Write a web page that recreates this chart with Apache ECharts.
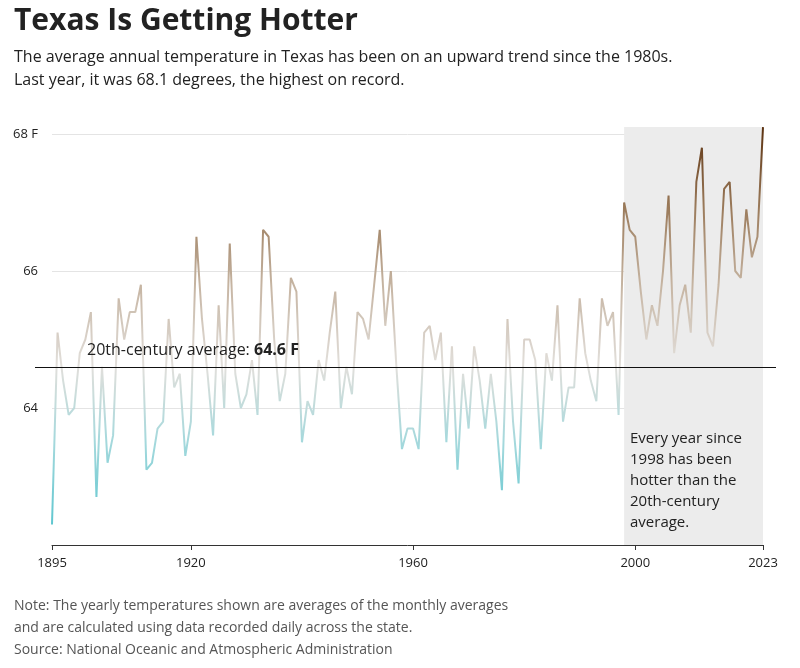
<!DOCTYPE html>
<html>
<head>
<meta charset="utf-8">
<script src="https://cdn.jsdelivr.net/npm/echarts@6/dist/echarts.min.js"></script>
<style>
  body { margin: 0; background: #fff; }
  #chart { width: 800px; height: 668px; }
</style>
</head>
<body>
<div id="chart"></div>
<script>
// annual average temperature in Texas, deg F, 1895-2023
const startYear = 1895;
const temps = [
  62.3, 65.1, 64.4, 63.9, 64.0, 64.8, 65.0, 65.4, 62.7, 64.6,
  63.2, 63.6, 65.6, 65.0, 65.4, 65.4, 65.8, 63.1, 63.2, 63.7,
  63.8, 65.3, 64.3, 64.5, 63.3, 63.8, 66.5, 65.3, 64.5, 63.6,
  65.5, 64.0, 66.4, 64.5, 64.0, 64.2, 64.7, 63.9, 66.6, 66.5,
  65.0, 64.1, 64.5, 65.9, 65.7, 63.5, 64.1, 63.9, 64.7, 64.4,
  65.1, 65.7, 64.0, 64.6, 64.2, 65.4, 65.3, 65.0, 65.8, 66.6,
  65.2, 66.0, 64.6, 63.4, 63.7, 63.7, 63.4, 65.1, 65.2, 64.7,
  65.1, 63.5, 64.9, 63.1, 64.5, 63.7, 64.9, 64.4, 63.7, 64.5,
  63.8, 62.8, 65.3, 63.8, 62.9, 65.0, 65.0, 64.7, 63.4, 64.8,
  64.4, 65.5, 63.8, 64.3, 64.3, 65.6, 64.8, 64.4, 64.1, 65.6,
  65.2, 65.4, 63.9, 67.0, 66.6, 66.5, 65.7, 65.0, 65.5, 65.2,
  66.0, 67.1, 64.8, 65.5, 65.8, 65.1, 67.3, 67.8, 65.1, 64.9,
  65.8, 67.2, 67.3, 66.0, 65.9, 66.9, 66.2, 66.5, 68.1
];
const xTicks = [1895, 1920, 1960, 2000, 2023];
const centuryAvg = 64.6;
const shadeFrom = 1998;

const years = temps.map((_, i) => startYear + i);
const seriesData = years.map((y, i) => [y, temps[i]]);
const lastIdx = seriesData.length - 1;

const chart = echarts.init(document.getElementById("chart"));
const font = "'Open Sans', 'Noto Sans', sans-serif";

chart.setOption({
  animation: false,
  textStyle: { fontFamily: font },
  grid: { left: 52, right: 37, top: 134, bottom: 123 },
  xAxis: {
    type: "value",
    min: startYear,
    max: years[lastIdx],
    splitLine: { show: false },
    axisLine: { lineStyle: { color: "#333", width: 1 } },
    axisTick: { customValues: xTicks, length: 5, lineStyle: { color: "#333" } },
    axisLabel: { customValues: xTicks, color: "#222", fontSize: 13, margin: 12, formatter: v => String(v) }
  },
  yAxis: {
    type: "value",
    min: 62,
    max: 68,
    interval: 2,
    axisLine: { show: false },
    axisTick: { show: false },
    splitLine: { lineStyle: { color: "#e4e4e4" } },
    axisLabel: {
      color: "#222", fontSize: 13, margin: 14,
      formatter: v => (v === 62 ? "" : v === 68 ? "68 F" : String(v))
    }
  },
  visualMap: {
    show: false,
    type: "continuous",
    dimension: 1,
    seriesIndex: 0,
    min: 62.3,
    max: 68.1,
    inRange: { color: ["#5ec6cf", "#a2d8dc", "#e2dfdb", "#c6b5a3", "#9a7a5a", "#5c3210"] }
  },
  series: [{
    type: "line",
    data: seriesData,
    showSymbol: false,
    symbol: "none",
    lineStyle: { width: 2 },
    clip: false,
    z: 3,
    markPoint: {
      silent: true,
      symbol: "circle",
      symbolSize: 9,
      itemStyle: { color: "#5c3210" },
      label: { show: true, position: "top", formatter: "68.1 F", color: "#5c3210", fontWeight: "bold", fontSize: 15, distance: 5 },
      data: [{ coord: seriesData[lastIdx] }]
    },
    markArea: {
      silent: true,
      itemStyle: { color: "#ececec" },
      data: [[{ xAxis: shadeFrom, y: 127 }, { xAxis: years[lastIdx], y: 545 }]],
      z: 1
    },
    markLine: {
      silent: true,
      symbol: "none",
      label: { show: false },
      lineStyle: { color: "#111", width: 1.2, type: "solid" },
      data: [[{ x: 35, yAxis: centuryAvg }, { x: 776, yAxis: centuryAvg }]]
    }
  }],
  graphic: [
    { type: "text", z: 10, left: 14, top: 6, style: { text: "Texas Is Getting Hotter", font: "bold 30px " + font, fill: "#222" } },
    { type: "text", z: 10, left: 14, top: 46, style: { text: "The average annual temperature in Texas has been on an upward trend since the 1980s.\nLast year, it was 68.1 degrees, the highest on record.", font: "16px " + font, fill: "#222", lineHeight: 23 } },
    { type: "text", z: 10, left: 87, top: 342, style: {
      text: "{n|20th-century average: }{b|64.6 F}",
      rich: { n: { font: "16px " + font, fill: "#222" }, b: { font: "bold 16px " + font, fill: "#222" } }
    } },
    { type: "text", z: 10, left: 630, top: 428, style: {
      text: "Every year since\n1998 has been\nhotter than the\n20th-century\naverage.",
      font: "15px " + font, fill: "#222", align: "center", width: 128, lineHeight: 21
    } },
    { type: "text", z: 10, left: 14, top: 595, style: {
      text: "Note: The yearly temperatures shown are averages of the monthly averages\nand are calculated using data recorded daily across the state.\nSource: National Oceanic and Atmospheric Administration",
      font: "14px " + font, fill: "#555", lineHeight: 22
    } }
  ]
});
</script>
</body>
</html>
